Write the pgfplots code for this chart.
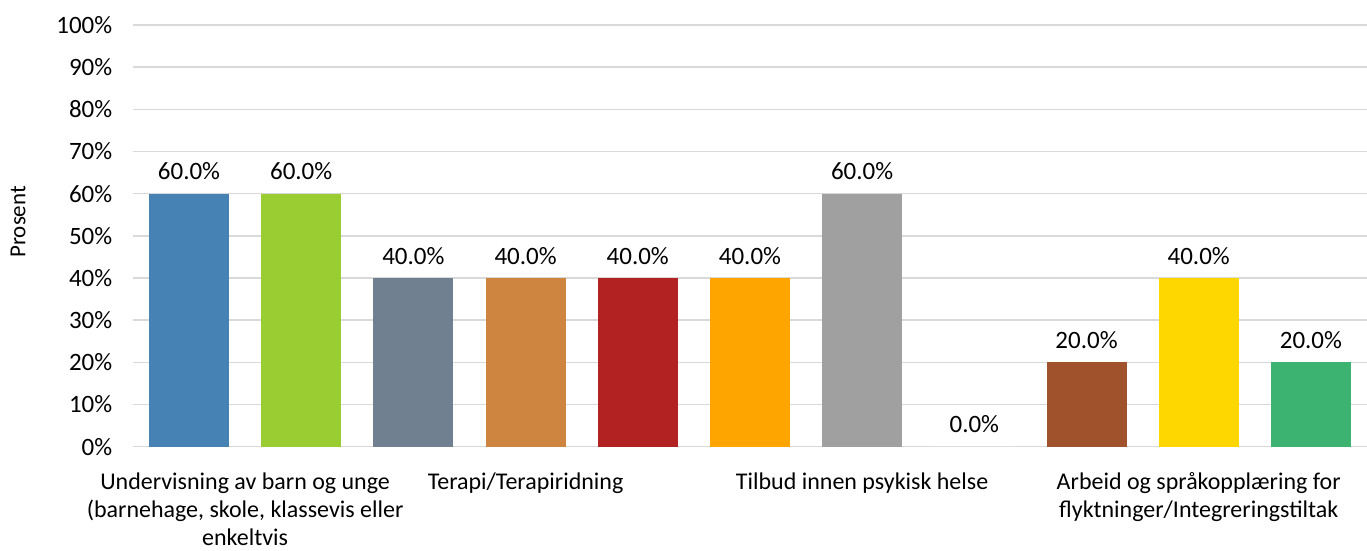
\documentclass[border=0pt]{standalone}
\usepackage{pgfplots}
\pgfplotsset{compat=1.18}
\usepackage{fontspec}
\setmainfont{Carlito}
\definecolor{c1}{RGB}{70,130,180}
\definecolor{c2}{RGB}{154,205,50}
\definecolor{c3}{RGB}{112,128,144}
\definecolor{c4}{RGB}{205,133,63}
\definecolor{c5}{RGB}{178,34,34}
\definecolor{c6}{RGB}{255,165,0}
\definecolor{c7}{RGB}{160,160,160}
\definecolor{c8}{RGB}{255,255,255}
\definecolor{c9}{RGB}{160,82,45}
\definecolor{c10}{RGB}{255,215,0}
\definecolor{c11}{RGB}{60,179,113}
\definecolor{gridc}{RGB}{217,217,217}
\begin{document}
\fontsize{12.5}{15}\selectfont
\begin{tikzpicture}
\useasboundingbox (-66.5pt,-52pt) rectangle (617.5pt,223.5pt);
\begin{axis}[
  at={(0pt,0pt)}, anchor=south west,
  scale only axis,
  width=617.5pt, height=211pt,
  xmin=-0.5, xmax=10.5,
  ymin=0, ymax=100,
  ytick={0,10,...,100},
  yticklabel={\pgfmathprintnumber{\tick}\%},
  /pgf/number format/assume math mode=true,
  ymajorgrids,
  grid style={gridc, line width=0.8pt},
  axis line style={draw=none},
  axis x line*=bottom,
  axis y line*=left,
  major tick length=0pt,
  xtick={0.5,3,6,9},
  xticklabels={{Undervisning av barn og unge\\(barnehage, skole, klassevis eller\\enkeltvis},
               {Terapi/Terapiridning},
               {Tilbud innen psykisk helse},
               {Arbeid og språkopplæring for\\flyktninger/Integreringstiltak}},
  xticklabel style={align=center, anchor=north, yshift=-8.5pt, font=\fontsize{12}{14.2}\selectfont},
  yticklabel style={font=\fontsize{12.5}{15}\selectfont, anchor=east, xshift=-6pt},
  ylabel={Prosent},
  every axis y label/.style={at={([xshift=-57.5pt,yshift=7pt]axis description cs:0,0.5)}, rotate=90, anchor=center, font=\fontsize{11.5}{14}\selectfont},
  ybar, bar width=40pt, bar shift=0pt,
  nodes near coords={\pgfmathprintnumber[fixed, fixed zerofill, precision=1]{\pgfplotspointmeta}\%},
  nodes near coords style={font=\fontsize{12.5}{15}\selectfont, text=black, yshift=2.5pt},
  clip=false,
]
\addplot[fill=c1, draw=none] coordinates {(0,60)};
\addplot[fill=c2, draw=none] coordinates {(1,60)};
\addplot[fill=c3, draw=none] coordinates {(2,40)};
\addplot[fill=c4, draw=none] coordinates {(3,40)};
\addplot[fill=c5, draw=none] coordinates {(4,40)};
\addplot[fill=c6, draw=none] coordinates {(5,40)};
\addplot[fill=c7, draw=none] coordinates {(6,60)};
\addplot[fill=c8, draw=none] coordinates {(7,0)};
\addplot[fill=c9, draw=none] coordinates {(8,20)};
\addplot[fill=c10, draw=none] coordinates {(9,40)};
\addplot[fill=c11, draw=none] coordinates {(10,20)};
\end{axis}
\end{tikzpicture}
\end{document}
